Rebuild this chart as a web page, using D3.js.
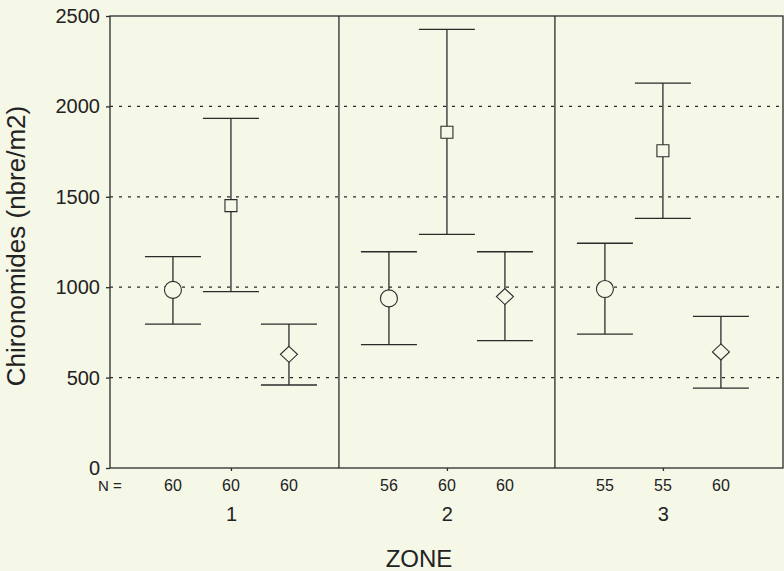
<!DOCTYPE html>
<html>
<head>
<meta charset="utf-8">
<script src="https://d3js.org/d3.v7.min.js"></script>
<style>
  html, body { margin: 0; padding: 0; background: #f5f7e7; }
  svg { display: block; font-family: 'Liberation Sans', Arial, sans-serif; }
  .axis text { fill: #222; }
</style>
</head>
<body>
<svg id="chart" width="784" height="571"></svg>
<script>
// zones and series
const zones = [1, 2, 3];
const seriesNames = ['circle', 'square', 'diamond'];

// means and error bar ends (one value per zone)
const circleMean = [985, 938, 990];
const circleLow  = [796, 682, 741];
const circleHigh = [1169, 1196, 1243];

const squareMean = [1451, 1857, 1755];
const squareLow  = [975, 1292, 1381];
const squareHigh = [1934, 2426, 2129];

const diamondMean = [629, 948, 642];
const diamondLow  = [459, 704, 442];
const diamondHigh = [796, 1196, 839];

// sample sizes under the axis
const circleN  = [60, 56, 55];
const squareN  = [60, 60, 55];
const diamondN = [60, 60, 60];

const yTicks = [0, 500, 1000, 1500, 2000, 2500];
const gridValues = [500, 1000, 1500, 2000];

const series = [
  { name: 'circle',  mean: circleMean,  low: circleLow,  high: circleHigh,  n: circleN },
  { name: 'square',  mean: squareMean,  low: squareLow,  high: squareHigh,  n: squareN },
  { name: 'diamond', mean: diamondMean, low: diamondLow, high: diamondHigh, n: diamondN }
];

// flatten into one row per bar
const rows = [];
series.forEach(s => {
  zones.forEach((z, i) => {
    rows.push({ series: s.name, zone: z, mean: s.mean[i], low: s.low[i], high: s.high[i], n: s.n[i] });
  });
});

const plotLeft = 110, plotRight = 783, plotTop = 16, plotBottom = 468;
const ink = '#2b2b2b';
const bg = '#f5f7e7';

const svg = d3.select('#chart');

const x = d3.scaleLinear().domain([0.44, 3.556]).range([plotLeft, plotRight]);
const sub = d3.scalePoint().domain(seriesNames).range([-58, 58]);
const y = d3.scaleLinear().domain([0, 2500]).range([plotBottom, plotTop]);

// dotted grid lines
svg.append('g')
  .selectAll('line')
  .data(gridValues)
  .join('line')
  .attr('x1', plotLeft).attr('x2', plotRight)
  .attr('y1', d => y(d)).attr('y2', d => y(d))
  .attr('stroke', ink)
  .attr('stroke-width', 1.2)
  .attr('stroke-dasharray', '3,6');

// frame and zone separators
svg.append('rect')
  .attr('x', plotLeft).attr('y', plotTop)
  .attr('width', plotRight - plotLeft).attr('height', plotBottom - plotTop)
  .attr('fill', 'none')
  .attr('stroke', ink)
  .attr('stroke-width', 1.3);

svg.append('g')
  .selectAll('line')
  .data([1.5, 2.5])
  .join('line')
  .attr('x1', d => x(d)).attr('x2', d => x(d))
  .attr('y1', plotTop).attr('y2', plotBottom)
  .attr('stroke', ink)
  .attr('stroke-width', 1.3);

// y axis
const yAxis = svg.append('g')
  .attr('class', 'axis')
  .attr('transform', `translate(${plotLeft},0)`)
  .call(d3.axisLeft(y).tickValues(yTicks).tickSize(4).tickPadding(6).tickFormat(d3.format('d')));
yAxis.select('.domain').remove();
yAxis.selectAll('line').attr('stroke', ink).attr('stroke-width', 1.3);
yAxis.selectAll('text').attr('font-size', 20);

// x axis: zone labels
const xAxis = svg.append('g')
  .attr('class', 'axis')
  .attr('transform', `translate(0,${plotBottom})`)
  .call(d3.axisBottom(x).tickValues(zones).tickSize(3).tickPadding(36).tickFormat(d3.format('d')));
xAxis.select('.domain').remove();
xAxis.selectAll('line').attr('stroke', ink).attr('stroke-width', 1.3);
xAxis.selectAll('text').attr('font-size', 20);

// error bars
const bars = svg.append('g').selectAll('g')
  .data(rows)
  .join('g')
  .attr('transform', d => `translate(${x(d.zone) + sub(d.series)},0)`);

bars.append('line')
  .attr('x1', 0).attr('x2', 0)
  .attr('y1', d => y(d.low)).attr('y2', d => y(d.high))
  .attr('stroke', ink).attr('stroke-width', 1.3);

bars.selectAll('line.cap')
  .data(d => [d.low, d.high])
  .join('line')
  .attr('class', 'cap')
  .attr('x1', -28).attr('x2', 28)
  .attr('y1', v => y(v)).attr('y2', v => y(v))
  .attr('stroke', ink).attr('stroke-width', 1.3);

// markers
const markerPath = {
  circle: 'M-8.5,0A8.5,8.5 0 1,0 8.5,0A8.5,8.5 0 1,0 -8.5,0Z',
  square: 'M-6,-6H6V6H-6Z',
  diamond: 'M0,-8L8.5,0L0,8L-8.5,0Z'
};
bars.append('path')
  .attr('transform', d => `translate(0,${y(d.mean)})`)
  .attr('d', d => markerPath[d.series])
  .attr('fill', bg)
  .attr('stroke', ink)
  .attr('stroke-width', 1.1);

// N row
svg.append('text')
  .attr('x', plotLeft).attr('y', 491)
  .attr('text-anchor', 'middle')
  .attr('font-size', 15)
  .attr('fill', '#222')
  .text('N =');

svg.append('g').selectAll('text')
  .data(rows)
  .join('text')
  .attr('x', d => x(d.zone) + sub(d.series))
  .attr('y', 491)
  .attr('text-anchor', 'middle')
  .attr('font-size', 16)
  .attr('fill', '#222')
  .text(d => d.n);

// axis titles
svg.append('text')
  .attr('x', 419).attr('y', 567)
  .attr('text-anchor', 'middle')
  .attr('font-size', 24)
  .attr('fill', '#222')
  .text('ZONE');

svg.append('text')
  .attr('transform', 'translate(25,246) rotate(-90)')
  .attr('text-anchor', 'middle')
  .attr('font-size', 26)
  .attr('fill', '#222')
  .text('Chironomides (nbre/m2)');
</script>
</body>
</html>
